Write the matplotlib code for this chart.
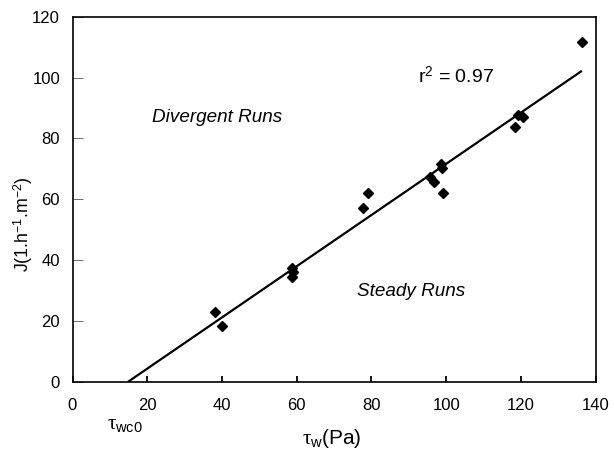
import matplotlib
matplotlib.use("Agg")
import matplotlib.pyplot as plt
import numpy as np

plt.rcParams['font.family'] = ['Liberation Sans', 'DejaVu Sans']
plt.rcParams['mathtext.fontset'] = 'custom'
plt.rcParams['mathtext.rm'] = 'Liberation Sans'
plt.rcParams['mathtext.it'] = 'Liberation Serif'
plt.rcParams['mathtext.bf'] = 'Liberation Sans:bold'

# data
tau_w = [38.1, 39.9, 58.8, 59.0, 58.7, 77.7, 79.0, 95.7, 96.6, 99.2, 98.6, 98.8,
         118.4, 119.3, 120.6, 136.3]
flux = [23.0, 18.4, 37.3, 36.0, 34.3, 57.0, 61.9, 67.4, 65.7, 61.9, 71.5, 70.3,
        83.8, 87.7, 87.1, 111.8]
fit_x = [14.9, 136.3]
fit_y = [0.0, 102.2]
x_ticks = [0, 20, 40, 60, 80, 100, 120, 140]
y_ticks = [0, 20, 40, 60, 80, 100, 120]

fig = plt.figure(figsize=(6.14, 4.51), dpi=100)
ax = fig.add_axes([72.5/614, 1-381.7/451, (595.7-72.5)/614, (381.7-16.7)/451])

ax.plot(fit_x, fit_y, color='black', lw=1.6, solid_capstyle='butt')
ax.plot(tau_w, flux, linestyle='none', marker='D', ms=4.8, color='black')

ax.set_xlim(0, 140)
ax.set_ylim(0, 120)
ax.set_xticks(x_ticks)
ax.set_yticks(y_ticks)
ax.tick_params(axis='x', direction='in', length=4.5, width=1.3, pad=12, labelsize=12)
ax.tick_params(axis='y', direction='in', length=7, width=0.6, pad=9, labelsize=12,
               color='#555555')
for s in ax.spines.values():
    s.set_linewidth(1.2)

ax.text(92.5, 100.5, r'r$^{2}$ = 0.97', fontsize=14, va='center', ha='left')
ax.text(21.3, 87, 'Divergent Runs', fontsize=13.6, style='italic', va='center', ha='left')
ax.text(76.1, 29.6, 'Steady Runs', fontsize=13.6, style='italic', va='center', ha='left')

fig.text(107/614, 1-425/451, r'$\tau_{\mathrm{wc0}}$', fontsize=15, va='center', ha='left')
fig.text(331.7/614, 1-439/451, r'$\tau_{\mathrm{w}}\mathrm{(Pa)}$', fontsize=15,
         va='center', ha='center')
fig.text(23/614, 1-224/451, r'J(1.h$^{-1}$.m$^{-2}$)', fontsize=12.8, rotation=90,
         va='center', ha='center')

fig.savefig('out.png', dpi=100)
